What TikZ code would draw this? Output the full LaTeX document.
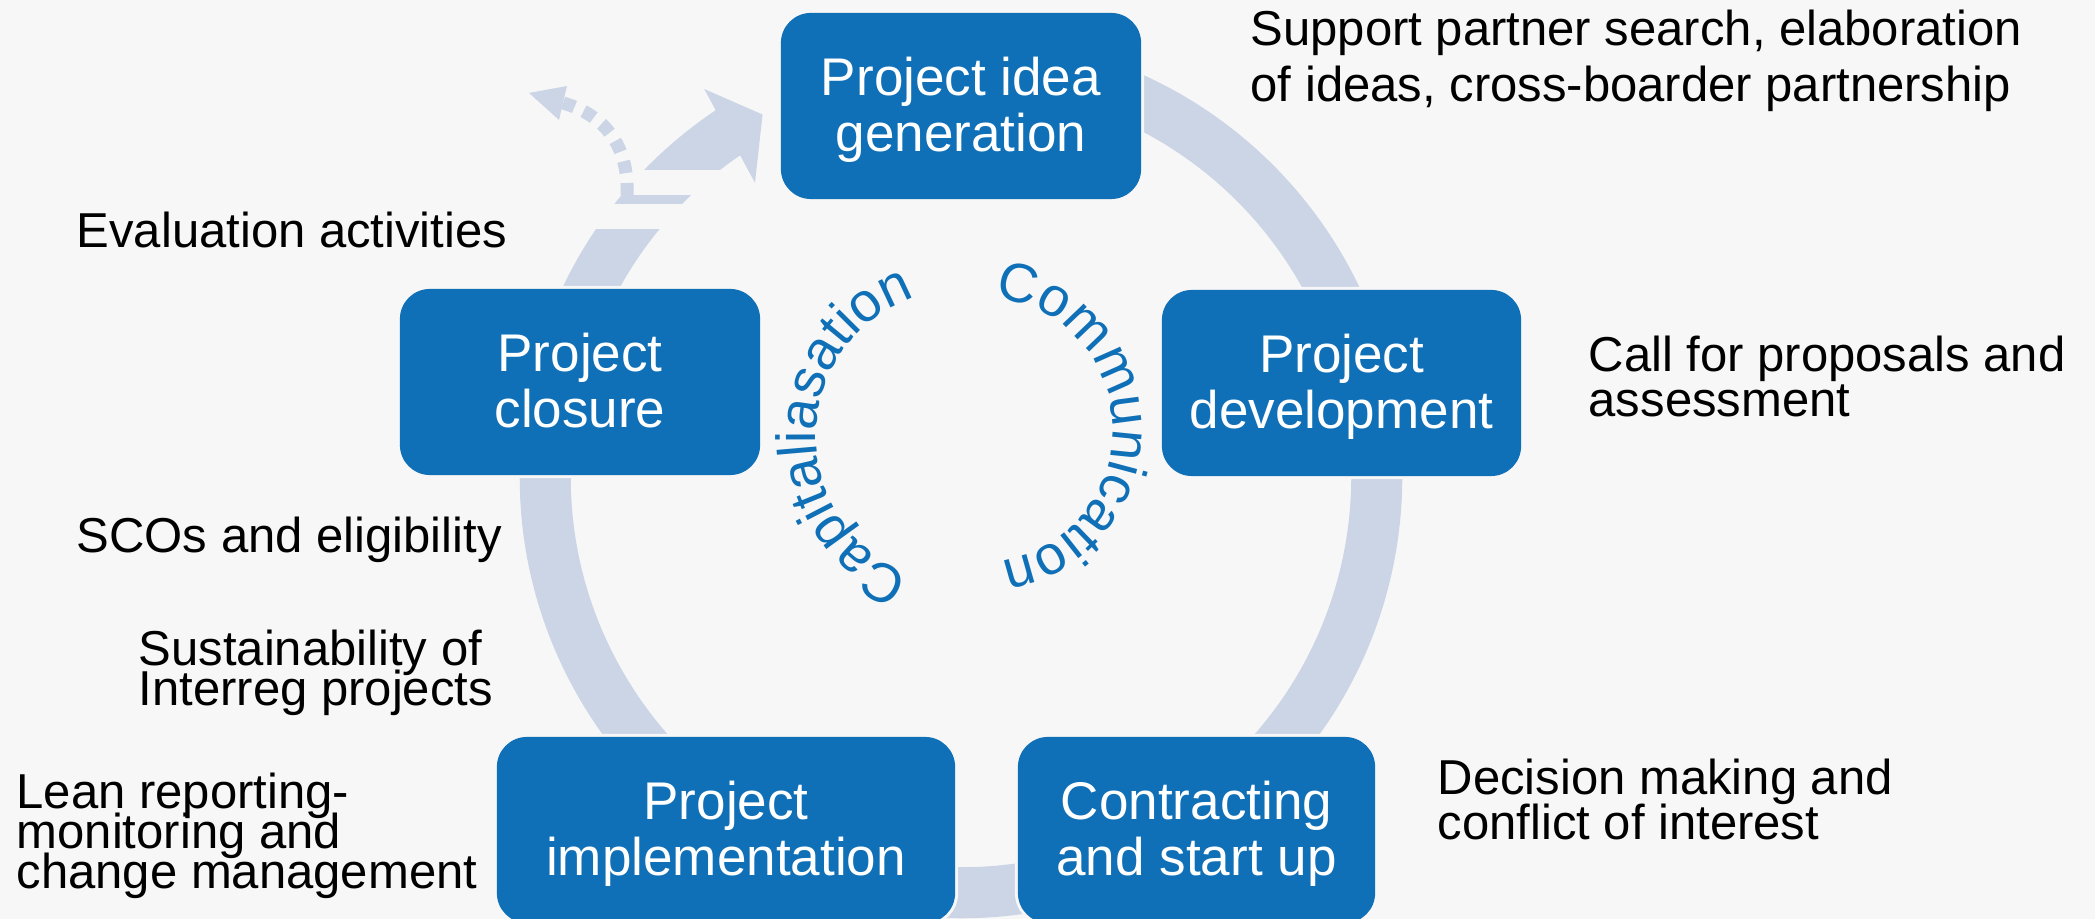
\documentclass[tikz,border=0pt]{standalone}
\usepackage{fontspec}
\setmainfont{Liberation Sans}
\usetikzlibrary{decorations.text}
\definecolor{bg}{HTML}{F7F7F7}
\definecolor{boxblue}{HTML}{1070B7}
\definecolor{ringc}{HTML}{CBD5E6}
\newcommand{\bxfont}{\fontsize{15.08pt}{16.2pt}\selectfont}
\newcommand{\bxtop}{\rule{0pt}{0.46cm}}
\newcommand{\sideA}{\fontsize{13.94pt}{15.93pt}\selectfont\lineskiplimit=-50pt}
\newcommand{\sideB}{\fontsize{13.94pt}{12.8pt}\selectfont\lineskiplimit=-50pt}
\newcommand{\sideC}{\fontsize{13.94pt}{11.38pt}\selectfont\lineskiplimit=-50pt}
\newcommand{\curvfont}{\fontsize{15.65pt}{18pt}\selectfont}
\begin{document}
\begin{tikzpicture}[x=0.01cm,y=0.01cm,
  box/.style={fill=boxblue, rounded corners=0.3cm, text=white, align=center,
    inner sep=0pt, font=\bxfont, minimum height=1.86cm,
    preaction={draw=bg, line width=0.06cm}},
  side/.style={inner sep=0pt, text=black, align=left, font=\sideB},
  ring/.style={fill=ringc},
  curved/.style={decorate, decoration={text along path, text color=boxblue, text align=center}}]
\useasboundingbox (0,0) rectangle (2095,919);
\fill[bg] (0,0) rectangle (2095,919);
\clip (0,0) rectangle (2095,919);

% cycle ring
\coordinate (C) at (961,442);
\fill[ring] ([shift={(85:4.41cm)}]C) arc[start angle=85, end angle=-236.5, radius=4.41cm]
  -- ([shift={(-236.5:3.9cm)}]C) arc[start angle=-236.5, end angle=85, radius=3.9cm] -- cycle;
\fill[ring] ([shift={(123.5:4.65cm)}]C) -- ([shift={(118.7:4.13cm)}]C) -- ([shift={(125:3.59cm)}]C) -- cycle;

% breaks in the ring
\fill[bg] (580,724) rectangle (724,749);
\fill[bg] (580,690) rectangle (724,715);

% dotted exit arrow
\coordinate (ds) at (627,724);
\coordinate (de) at (563,816);
\coordinate (dtip) at (529,826);
\draw[ringc, line width=0.13cm, dash pattern=on 0.12cm off 0.1cm]
  (ds) .. controls (629,774) and (604,804) .. (de);
\fill[ring] (dtip) -- (567,833) -- (559,799) -- cycle;

% boxes
\node[box, minimum width=3.6cm] (idea) at (961,813) {\bxtop Project idea\\generation};
\node[box, minimum width=3.59cm] (dev) at (1341.5,536) {\bxtop Project\\development};
\node[box, minimum width=3.6cm] (clo) at (580,537) {\bxtop Project\\closure\vphantom{g}};
\node[box, minimum width=4.58cm] (impl) at (726,89) {\bxtop Project\\implementation};
\node[box, minimum width=3.57cm] (con) at (1196.5,89) {\bxtop Contracting\\and start up};

% side texts
\node[side, anchor=north west, font=\sideA] (t1) at (1250,910) {Support partner search, elaboration\\of ideas, cross-boarder partnership};
\node[side, anchor=base west] (t2) at (76,671) {Evaluation activities};
\node[side, anchor=north west] (t3) at (1588,584) {Call for proposals and\\assessment};
\node[side, anchor=base west] (t4) at (76,366) {SCOs and eligibility};
\node[side, anchor=north west, font=\sideC] (t5) at (138,290) {Sustainability of\\Interreg projects};
\node[side, anchor=north west, font=\sideC] (t6) at (16,147) {Lean reporting-\\monitoring and\\change management};
\node[side, anchor=north west] (t7) at (1437,161) {Decision making and\\conflict of interest};

% curved texts
\coordinate (cm1) at (980,489);
\coordinate (cp1) at (964,482);
\path[curved, decoration={text={|\curvfont|Communication}}]
  ([shift={(101.5:1.33cm)}]cm1) arc[start angle=101.5, end angle=-98.5, radius=1.33cm];
\path[curved, decoration={text={|\curvfont|Capitaliasation}}]
  ([shift={(279:1.48cm)}]cp1) arc[start angle=279, end angle=79, radius=1.48cm];
\end{tikzpicture}
\end{document}
